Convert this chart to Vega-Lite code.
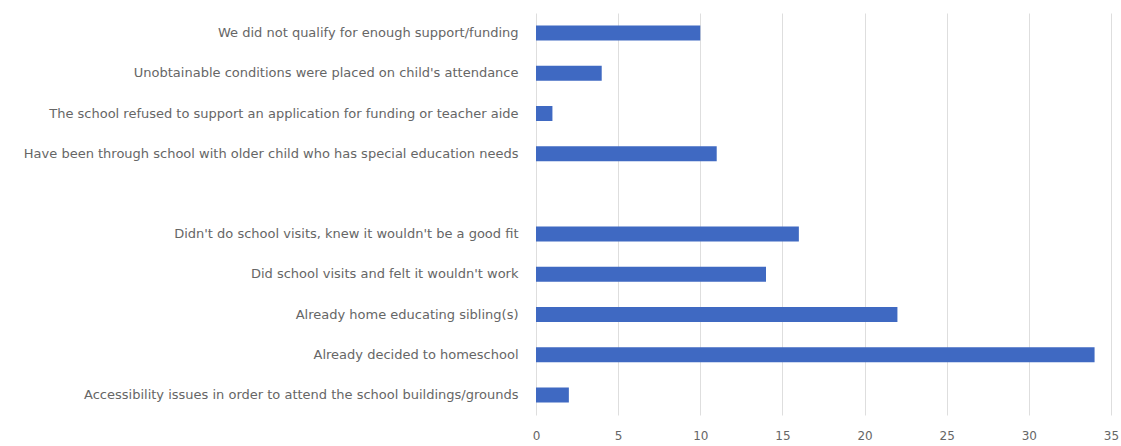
{
  "$schema": "https://vega.github.io/schema/vega-lite/v6.json",
  "autosize": {"type": "none"},
  "padding": {"left": 536, "top": 13, "right": 10, "bottom": 31},
  "width": 575,
  "height": 402,
  "background": "white",
  "data": {
    "values": [
      {"reason": "We did not qualify for enough support/funding", "count": 10},
      {"reason": "Unobtainable conditions were placed on child's attendance", "count": 4},
      {"reason": "The school refused to support an application for funding or teacher aide", "count": 1},
      {"reason": "Have been through school with older child who has special education needs", "count": 11},
      {"reason": "Didn't do school visits, knew it wouldn't be a good fit", "count": 16},
      {"reason": "Did school visits and felt it wouldn't work", "count": 14},
      {"reason": "Already home educating sibling(s)", "count": 22},
      {"reason": "Already decided to homeschool", "count": 34},
      {"reason": "Accessibility issues in order to attend the school buildings/grounds", "count": 2}
    ]
  },
  "mark": {"type": "bar", "color": "#3f69c2", "height": 15},
  "encoding": {
    "y": {
      "field": "reason",
      "type": "nominal",
      "scale": {
        "domain": [
          "We did not qualify for enough support/funding",
          "Unobtainable conditions were placed on child's attendance",
          "The school refused to support an application for funding or teacher aide",
          "Have been through school with older child who has special education needs",
          " ",
          "Didn't do school visits, knew it wouldn't be a good fit",
          "Did school visits and felt it wouldn't work",
          "Already home educating sibling(s)",
          "Already decided to homeschool",
          "Accessibility issues in order to attend the school buildings/grounds"
        ],
        "paddingInner": 0.6,
        "paddingOuter": 0.3
      },
      "axis": {
        "title": null,
        "domain": false,
        "ticks": false,
        "labelPadding": 18,
        "labelLimit": 600,
        "labelFont": "DejaVu Sans",
        "labelFontSize": 13,
        "labelColor": "#666666"
      }
    },
    "x": {
      "field": "count",
      "type": "quantitative",
      "scale": {"domain": [0, 35], "nice": false},
      "axis": {
        "title": null,
        "values": [0, 5, 10, 15, 20, 25, 30, 35],
        "domain": false,
        "ticks": false,
        "grid": true,
        "gridColor": "#dedede",
        "labelPadding": 15,
        "labelFont": "DejaVu Sans",
        "labelFontSize": 12,
        "labelColor": "#666666",
        "labelFlush": false
      }
    }
  },
  "config": {"view": {"stroke": null}}
}
